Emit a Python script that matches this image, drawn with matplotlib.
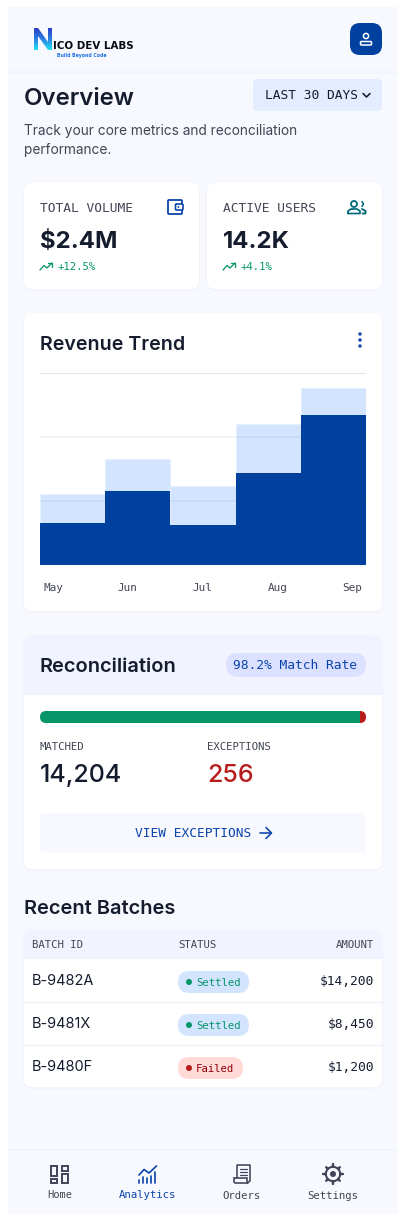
import numpy as np
import matplotlib
matplotlib.use("Agg")
import matplotlib.pyplot as plt
from matplotlib.patches import FancyBboxPatch, Circle, Polygon, Rectangle
from matplotlib.colors import LinearSegmentedColormap

# chart data
months = ["May", "Jun", "Jul", "Aug", "Sep"]
projected = [37, 55, 41, 73.5, 92]
actual = [22, 38.5, 21, 48, 78]
grid_vals = [33.3, 66.7]
label_pos = [-0.293, 0.845, 1.992, 3.142, 4.285]

match_rate = 98.2

batch_ids = ["B-9482A", "B-9481X", "B-9480F"]
batch_status = ["Settled", "Settled", "Failed"]
batch_amounts = ["$14,200", "$8,450", "$1,200"]

W, H = 406, 1222
SANS = "Inter"
MONO = "DejaVu Sans Mono"
BG = "#f8f9ff"
INK = "#151c2e"
GREY = "#434654"
BLUE = "#0b45ab"
NAVY = "#00419f"
GREEN = "#069668"
RED = "#b91c1c"
HEAD = "#f1f3ff"

fig = plt.figure(figsize=(W / 100, H / 100), dpi=100, facecolor="white")
page = fig.add_axes([0, 0, 1, 1])
page.set_xlim(0, W)
page.set_ylim(H, 0)
page.axis("off")


def box(x0, y0, x1, y1, color, r=0, z=1, alpha=1):
    p = FancyBboxPatch((x0, y0), x1 - x0, y1 - y0, boxstyle="round,pad=0,rounding_size=%s" % r,
                       fc=color, ec="none", alpha=alpha, zorder=z)
    page.add_patch(p)
    return p


def card(x0, y0, x1, y1, color="white", r=8):
    box(x0 - 1, y0, x1 + 1, y1 + 2, "#2a3a70", r + 1, 2, 0.025)
    box(x0, y0, x1, y1, color, r, 3)


def txt(x, y, s, px, color=INK, fam=SANS, weight="normal", ha="left"):
    page.text(x, y, s, fontsize=px * 0.72, color=color, family=fam, fontweight=weight,
              ha=ha, va="baseline", zorder=6)


def line(xs, ys, color, lw=1.5, z=6):
    page.plot(xs, ys, color=color, lw=lw * 0.72, solid_capstyle="round", solid_joinstyle="round", zorder=z)


# page and header
page.add_patch(Rectangle((8, 7), 390, 1207, fc=BG, ec="none", zorder=0))
page.add_patch(Rectangle((8, 71), 390, 3, fc="#f1f3fa", ec="none", alpha=0.6, zorder=0.5))

# logo
n_shape = Polygon([(34, 28), (38, 28), (48, 42), (48, 28), (52, 28), (52, 50), (48, 50),
                   (38, 36), (38, 50), (34, 50)], closed=True, transform=page.transData, fc="none", ec="none")
page.add_patch(n_shape)
grad = np.linspace(0, 1, 64).reshape(-1, 1)
logo_cmap = LinearSegmentedColormap.from_list("logo", ["#2a3fc8", "#2b7fe0", "#22e4f4"])
im = page.imshow(grad, extent=(34, 52, 50, 28), cmap=logo_cmap, aspect="auto", zorder=5)
im.set_clip_path(n_shape)
page.set_xlim(0, W)
page.set_ylim(H, 0)
txt(53, 49, "ICO DEV LABS", 10.2, "#0a0a14", "DejaVu Sans", "bold")
txt(57, 56.5, "Build Beyond Code", 4.6, "#1a6fe8", "DejaVu Sans", "bold")

# avatar button
box(350, 23, 382, 55, NAVY, 10, 3)
page.add_patch(Circle((366, 36), 2.6, fc="none", ec="white", lw=1.1, zorder=6))
box(360.5, 41.5, 371.5, 45, "none", 1, 6).set(ec="white", lw=1.1)

# title block
txt(24, 105, "Overview", 24, INK, SANS, "semibold")
box(253, 79, 382, 111, "#e3edff", 4, 3)
txt(265, 99, "LAST 30 DAYS", 12.9, INK, MONO)
line([363, 366.5, 370], [93.5, 97, 93.5], INK, 1.6)
txt(24, 134.5, "Track your core metrics and reconciliation", 13.7, GREY)
txt(24, 154, "performance.", 13.7, GREY)

# metric cards
card(24, 183, 199, 289)
card(207, 183, 382, 289)
txt(40, 211.5, "TOTAL VOLUME", 12.9, GREY, MONO)
txt(223, 211.5, "ACTIVE USERS", 12.9, GREY, MONO)
txt(40, 248, "$2.4M", 24, INK, SANS, "bold")
txt(223, 248, "14.2K", 24, INK, SANS, "bold")
txt(58, 270, "+12.5%", 10.6, GREEN, MONO)
txt(241, 270, "+4.1%", 10.6, GREEN, MONO)
for x0 in (40, 223):
    line(np.array([0, 4, 7, 12]) + x0, [270, 265.5, 268, 263], GREEN, 1.3)
    line(np.array([8.5, 12.5, 12.5]) + x0, [263, 263, 266.5], GREEN, 1.3)

# wallet icon
box(168, 200, 182, 214, "none", 1, 6).set(ec=BLUE, lw=1.3)
box(175.5, 204, 183, 210, "white", 1, 6).set(ec=BLUE, lw=1.2)
page.add_patch(Circle((178.5, 207), 0.9, fc=BLUE, ec="none", zorder=7))

# users icon
TEAL = "#00687a"
page.add_patch(Circle((354, 204), 3, fc="none", ec=TEAL, lw=1.3, zorder=6))
line([362, 363.5, 362], [201.5, 204, 206.5], TEAL, 1.6)
line([348, 348, 351, 357, 360, 360, 348], [213.5, 211, 209, 209, 211, 213.5, 213.5], TEAL, 1.7)
line([362, 365.5, 365.5, 362.5], [209, 211, 213.5, 213.5], TEAL, 1.9)

# revenue card
card(24, 313, 382, 611)
txt(40, 350, "Revenue Trend", 19.6, INK, SANS, "semibold")
for yy in (334, 340, 346):
    page.add_patch(Circle((360, yy), 1.7, fc=BLUE, ec="none", zorder=6))

ax = fig.add_axes([40 / W, 1 - 565 / H, 326 / W, 192 / H], zorder=5)
ax.patch.set_alpha(0)
xs = np.arange(len(months))
ax.bar(xs, projected, width=1, color="#d3e4fe", edgecolor="#e6efff", linewidth=0.5, zorder=2)
ax.bar(xs, actual, width=1, color=NAVY, linewidth=0, zorder=3)
ax.axhline(100, color="#e4e4ea", lw=0.8, zorder=1, clip_on=False, solid_capstyle="butt")
for g in grid_vals:
    ax.axhline(g, color="#2a3a60", lw=1.1, alpha=0.07, zorder=4, solid_capstyle="butt")
ax.set_xlim(-0.5, len(months) - 0.5)
ax.set_ylim(0, 100)
ax.set_yticks([])
ax.set_xticks(label_pos)
ax.set_xticklabels(months, family=MONO, fontsize=11 * 0.72, color=GREY)
ax.tick_params(axis="x", length=0, pad=13)
for s in ax.spines.values():
    s.set_visible(False)

# reconciliation card
card(24, 635, 382, 869)
box(24, 635, 382, 675, HEAD, 8, 4)
page.add_patch(Rectangle((24, 660), 358, 35, fc=HEAD, ec="none", zorder=4))
txt(40, 672, "Reconciliation", 20, INK, SANS, "semibold")
box(226, 653, 366, 677, "#dbe1ff", 12, 5)
txt(233, 669, "%.1f%% Match Rate" % match_rate, 12.9, BLUE, MONO)

bar_ax = fig.add_axes([40 / W, 1 - 723 / H, 326 / W, 12 / H], zorder=5)
bar_ax.axis("off")
bar_ax.set_xlim(0, 100)
bar_ax.set_ylim(0, 1)
track = FancyBboxPatch((40, 711), 326, 12, boxstyle="round,pad=0,rounding_size=6", fc="none", ec="none",
                       transform=page.transData)
page.add_patch(track)
b1 = bar_ax.barh(0.5, match_rate, height=1, color=GREEN)
b2 = bar_ax.barh(0.5, 100 - match_rate, left=match_rate, height=1, color=RED)
for r in (b1[0], b2[0]):
    r.set_clip_path(track)

txt(40, 750, "MATCHED", 10.6, GREY, MONO)
txt(207, 750, "EXCEPTIONS", 10.6, GREY, MONO)
txt(40, 782, "14,204", 25, INK, SANS, "medium")
txt(207, 782, "256", 25, RED, SANS, "medium")
box(40, 813, 366, 853, BG, 4, 4)
txt(135, 837, "VIEW EXCEPTIONS", 12.9, BLUE, MONO)
line([260, 271.5], [833, 833], BLUE, 1.6)
line([266, 271.5, 266], [827.5, 833, 838.5], BLUE, 1.6)

# recent batches
txt(24, 914, "Recent Batches", 20, INK, SANS, "semibold")
card(24, 929, 382, 1087)
box(24, 929, 382, 950, HEAD, 8, 4)
page.add_patch(Rectangle((24, 940), 358, 19, fc=HEAD, ec="none", zorder=4))
txt(32, 948, "BATCH ID", 10.6, GREY, MONO)
txt(178, 948, "STATUS", 10.6, GREY, MONO)
txt(374, 948, "AMOUNT", 10.6, GREY, MONO, ha="right")
for i in range(len(batch_ids)):
    top = 959 + 43 * i
    if i:
        page.plot([24, 382], [top - 0.5, top - 0.5], color="#eff0f6", lw=0.8, zorder=5)
    txt(32, top + 26, batch_ids[i], 14.5, INK, SANS)
    txt(374, top + 25.7, batch_amounts[i], 12.9, INK, MONO, ha="right")
    ok = batch_status[i] == "Settled"
    box(178, top + 12, 249 if ok else 243, top + 34, "#d3e4fe" if ok else "#ffdad6", 11, 5)
    page.add_patch(Circle((189, top + 23), 3, fc=GREEN if ok else RED, ec="none", zorder=6))
    txt(196, top + 27, batch_status[i], 10.6, GREEN if ok else "#93000a", MONO)

# bottom nav
page.add_patch(Rectangle((8, 1149), 390, 2, fc="#f1f3fa", ec="none", alpha=0.6, zorder=1))
txt(59.5, 1198, "Home", 10.4, GREY, MONO, ha="center")
txt(147.5, 1198, "Analytics", 10.6, BLUE, MONO, ha="center")
txt(242, 1199, "Orders", 10.6, GREY, MONO, ha="center")
txt(333, 1199, "Settings", 10.6, GREY, MONO, ha="center")

ICON = "#40455a"
for rect in [(51, 1166, 57.5, 1176), (62, 1166, 68.5, 1171), (51, 1179, 57.5, 1182.5), (62, 1174, 68.5, 1182.5)]:
    page.add_patch(Rectangle(rect[:2], rect[2] - rect[0], rect[3] - rect[1], fc="none", ec=ICON, lw=1.4, zorder=6))

for bx, by in zip([139.5, 143.5, 147.5, 151.5, 155.5], [1180, 1177, 1178, 1176, 1172]):
    line([bx, bx], [1182.5, by], BLUE, 1.7)
line([139, 144, 149, 156.5], [1175, 1169.5, 1173, 1166], BLUE, 1.7)

line([237, 237, 250, 250, 247, 247], [1178, 1165, 1165, 1181, 1183, 1178], ICON, 1.6)
line([234, 247, 247], [1178, 1178, 1178], ICON, 1.6)
line([234, 234, 235, 248], [1178, 1182, 1183, 1183], ICON, 1.6)
for yy in (1169, 1172, 1175):
    line([240, 247], [yy, yy], ICON, 1.2)

gear_t = np.linspace(0, 2 * np.pi, 8, endpoint=False)
page.add_patch(Circle((333, 1174), 7.2, fc="none", ec=ICON, lw=1.5, zorder=6))
page.add_patch(Circle((333, 1174), 3, fc=ICON, ec="none", zorder=6))
for a in gear_t:
    line([333 + 7.2 * np.cos(a), 333 + 9.6 * np.cos(a)], [1174 + 7.2 * np.sin(a), 1174 + 9.6 * np.sin(a)], ICON, 2.4)

fig.savefig("out.png", dpi=100, facecolor="white")
